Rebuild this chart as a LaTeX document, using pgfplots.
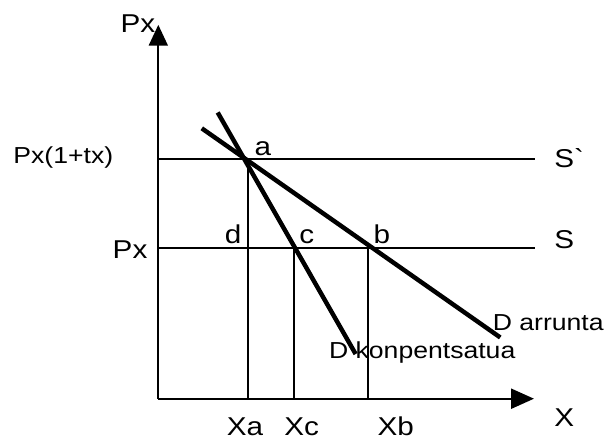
\documentclass[border=0pt]{standalone}
\usepackage{fontspec}
\newfontfamily\lab{Liberation Sans}[FakeStretch=1.15]
\usepackage{pgfplots}
\pgfplotsset{compat=1.18}
\usetikzlibrary{arrows.meta}
\begin{document}
\begin{tikzpicture}
\begin{axis}[scale only axis, width=607pt, height=443pt,
  xmin=0, xmax=607, ymin=0, ymax=443, hide axis, clip=false,
  every node/.append style={inner sep=0pt, outer sep=0pt}]
\path (rel axis cs:0,0) rectangle (rel axis cs:1,1);
% axes
\addplot[black, line width=2.3pt, -{Triangle[length=21pt,width=19pt]}] coordinates {(159.5,41.3) (159.5,418)};
\addplot[black, line width=2.3pt, -{Triangle[length=23pt,width=20pt]}] coordinates {(159.5,41.3) (538,41.3)};
% supply lines S` and S
\addplot[black, line width=2.2pt] coordinates {(159.5,283) (539,283)};
\addplot[black, line width=2.2pt] coordinates {(159.5,193) (539,193)};
% drop lines
\addplot[black, line width=2.2pt] coordinates {(250,283) (250,41.3)};
\addplot[black, line width=2.2pt] coordinates {(296,193) (296,41.3)};
\addplot[black, line width=2.2pt] coordinates {(370.5,193) (370.5,41.3)};
% demand curves
\addplot[black, line width=4.5pt] coordinates {(219.3,329.7) (358.3,86.3)};
\addplot[black, line width=4.5pt] coordinates {(203.3,313.7) (504,103)};
% labels
\node[anchor=base west] at (axis cs:118,410) {\lab\fontsize{26}{30}\selectfont Px};
\node[anchor=base west] at (axis cs:10,278) {\lab\fontsize{23.3}{28}\selectfont Px(1+tx)};
\node[anchor=base east] at (axis cs:152,183) {\lab\fontsize{26}{30}\selectfont Px};
\node[anchor=base west] at (axis cs:253,286) {\lab\fontsize{26}{30}\selectfont a};
\node[anchor=base west] at (axis cs:223,198) {\lab\fontsize{26}{30}\selectfont d};
\node[anchor=base west] at (axis cs:298,198) {\lab\fontsize{26}{30}\selectfont c};
\node[anchor=base west] at (axis cs:373,198) {\lab\fontsize{26}{30}\selectfont b};
\node[anchor=base west] at (axis cs:555,274) {\lab\fontsize{26}{30}\selectfont S`};
\node[anchor=base west] at (axis cs:555,193) {\lab\fontsize{26}{30}\selectfont S};
\node[anchor=base west] at (axis cs:555,13) {\lab\fontsize{26}{30}\selectfont X};
\node[anchor=base west] at (axis cs:225,4) {\lab\fontsize{26}{30}\selectfont Xa};
\node[anchor=base west] at (axis cs:283,4) {\lab\fontsize{26}{30}\selectfont Xc};
\node[anchor=base west] at (axis cs:377,4) {\lab\fontsize{26}{30}\selectfont Xb};
\node[anchor=base west] at (axis cs:493,110) {\lab\fontsize{23.3}{28}\selectfont D arrunta};
\node[anchor=base west] at (axis cs:328,82) {\lab\fontsize{23.3}{28}\selectfont D konpentsatua};
\end{axis}
\end{tikzpicture}
\end{document}
